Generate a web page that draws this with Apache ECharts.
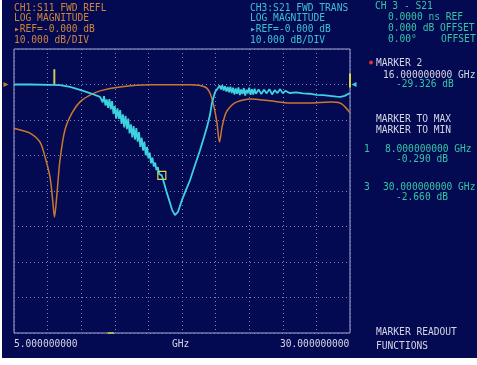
<!DOCTYPE html>
<html>
<head>
<meta charset="utf-8">
<script src="https://cdn.jsdelivr.net/npm/echarts@6/dist/echarts.min.js"></script>
<style>
  html, body { margin: 0; padding: 0; background: #ffffff; }
  #chart {
    width: 477px; height: 365px;
    background: linear-gradient(#040a52, #040a52) no-repeat 2px 0;
    background-size: 475px 358px;
  }
</style>
</head>
<body>
<div id="chart"></div>
<script>
// S11 (FWD REFL) trace, freq GHz / dB
const s11Freq = [5.0, 5.45, 6.19, 6.93, 7.31, 7.68, 7.9, 8.01, 8.2, 8.42, 8.79, 9.32, 9.91, 10.65, 11.4, 12.89,
  15.12, 18.1, 19.21, 19.58, 19.88, 20.1, 20.29, 20.48, 20.77, 21.22, 21.59, 22.56, 24.05, 25.54, 27.02, 28.51, 29.26, 29.63, 30.0];
const s11Db = [-12.3, -12.8, -13.7, -16.2, -20.4, -26.1, -33.4, -37.3, -30.6, -21.3, -12.8, -8.0, -4.9, -3.0, -1.8, -0.7,
  -0.1, -0.1, -0.7, -2.4, -6.3, -10.8, -16.2, -12.0, -8.0, -5.8, -4.9, -4.1, -4.6, -5.2, -5.2, -4.9, -5.2, -6.3, -8.0];

// S21 (FWD TRANS) trace, freq GHz / dB
const s21Freq = [5.0, 6.19, 7.68, 8.42, 9.17, 9.91, 10.65, 11.4,
  11.5, 11.6, 11.7, 11.8, 11.9, 12.0, 12.1, 12.2, 12.3, 12.4, 12.5, 12.6, 12.7, 12.8, 12.9, 13.0, 13.1, 13.2, 13.3, 13.4,
  13.5, 13.6, 13.7, 13.8, 13.9, 14.0, 14.1, 14.2, 14.3, 14.4, 14.5, 14.6, 14.7, 14.8, 14.9, 15.0, 15.1, 15.2, 15.3, 15.4,
  15.5, 15.6, 15.7, 15.8, 15.9, 16.0, 16.16, 16.38, 16.61, 16.76, 16.98, 17.2, 17.5, 17.8, 18.1, 18.47, 18.84, 19.14,
  19.36, 19.58, 19.73, 19.96, 20.18, 20.3, 20.4, 20.5, 20.6, 20.7, 20.8, 20.9, 21.0, 21.1, 21.2, 21.3, 21.4, 21.5, 21.6,
  21.7, 21.8, 21.9, 22.0, 22.1, 22.2, 22.3, 22.4, 22.5, 22.6, 22.7, 22.8, 22.9, 23.0, 23.2, 23.4, 23.6, 23.8, 24.0, 24.2,
  24.4, 24.6, 24.8, 25.0, 25.2, 25.5, 26.0, 26.5, 27.0, 27.5, 28.0, 28.5, 29.0, 29.3, 29.6, 30.0];
const s21Db = [0.0, 0.0, -0.1, -0.2, -0.7, -1.5, -2.4, -3.5,
  -3.0, -5.0, -3.3, -5.9, -4.2, -6.6, -4.1, -7.0, -4.7, -8.3, -6.1, -9.6, -6.7, -9.7, -7.2, -11.1, -8.4, -12.1, -8.8, -12.6,
  -9.6, -13.8, -11.2, -14.9, -11.7, -15.5, -12.3, -16.1, -13.4, -17.6, -15.0, -18.6, -16.1, -19.9, -17.6, -20.8, -19.2, -22.2, -20.6, -23.1,
  -22.0, -24.1, -23.3, -25.2, -24.8, -25.6, -27.7, -30.6, -33.4, -35.3, -36.8, -35.9, -32.5, -29.7, -26.9, -22.7, -18.5, -14.8,
  -12.0, -8.6, -5.2, -2.1, -1.0, -0.3, -1.4, -0.2, -1.7, -0.5, -2.0, -0.7, -2.2, -0.6, -2.4, -0.9, -2.8, -1.1, -2.6,
  -0.8, -3.0, -1.4, -2.7, -1.0, -3.1, -1.5, -2.5, -0.9, -2.9, -1.3, -2.8, -1.2, -2.6, -1.4, -2.7, -1.5, -2.5, -1.3, -2.8,
  -1.6, -2.4, -1.3, -2.5, -1.8, -2.4, -2.2, -2.5, -2.6, -2.9, -3.0, -3.2, -3.4, -3.5, -3.2, -2.4];

// markers: [freq, dB]
const marker1 = [8.0, 0.0];
const marker2 = [16.0, -25.6];
const marker3 = [30.0, -2.4];

const xTicks = ['5.000000000', 'GHz', '30.000000000'];

const s11Color = '#c8782e';
const s21Color = '#3cd2e0';
const FONT = '9.6px "DejaVu Sans Mono", monospace';

const chart = echarts.init(document.getElementById('chart'));

function zip(a, b) { return a.map((v, i) => [v, b[i]]); }

function txt(x, y, text, fill) {
  return { type: 'text', left: x, top: y, style: { text: text, fill: fill, font: FONT } };
}

const orangeT = '#d0843a';
const cyanT = '#3cc0d0';
const greenT = '#34c4a4';
const whiteT = '#d4d4e4';

const option = {
  animation: false,
  grid: {
    left: 14, right: 127, top: 49, bottom: 32,
    show: true, borderColor: '#a8a8d4', borderWidth: 1, backgroundColor: 'transparent'
  },
  xAxis: {
    type: 'value', min: 5, max: 30, interval: 2.5,
    axisLine: { show: false }, axisTick: { show: false }, axisLabel: { show: false },
    splitLine: { show: true, lineStyle: { color: '#8080c0', type: [1, 3], width: 1 } }
  },
  yAxis: {
    type: 'value', min: -70, max: 10, interval: 10,
    axisLine: { show: false }, axisTick: { show: false }, axisLabel: { show: false },
    splitLine: { show: true, lineStyle: { color: '#8080c0', type: [1, 3], width: 1 } }
  },
  series: [
    {
      name: 'S11', type: 'line', data: zip(s11Freq, s11Db), smooth: 0.3, showSymbol: false,
      lineStyle: { color: s11Color, width: 1.5 }, z: 2,
      markPoint: {
        silent: true,
        data: [
          { coord: [5, 0], symbol: 'triangle', symbolSize: [5, 5], symbolRotate: -90, symbolOffset: [-8, 0],
            itemStyle: { color: s11Color }, label: { show: false } }
        ]
      }
    },
    {
      name: 'S21', type: 'line', data: zip(s21Freq, s21Db), showSymbol: false,
      lineStyle: { color: s21Color, width: 1.8 }, z: 3,
      markPoint: {
        silent: true,
        data: [
          { coord: marker2, symbol: 'rect', symbolSize: 8,
            itemStyle: { color: 'transparent', borderColor: '#d8d84a', borderWidth: 1.2 }, label: { show: false } },
          { coord: [marker1[0], marker1[1] + 2.2], symbol: 'rect', symbolSize: [2, 15],
            itemStyle: { color: '#c8c858' }, label: { show: false } },
          { coord: [marker3[0], marker3[1] + 3.5], symbol: 'rect', symbolSize: [2, 14],
            itemStyle: { color: '#d8d84a' }, label: { show: false } },
          { coord: [30, 0], symbol: 'triangle', symbolSize: [5, 5], symbolRotate: 90, symbolOffset: [4, 0],
            itemStyle: { color: s21Color }, label: { show: false } },
          { coord: [12.2, -70], symbol: 'rect', symbolSize: [6, 2],
            itemStyle: { color: '#a8b850' }, label: { show: false } }
        ]
      }
    }
  ],
  graphic: [
    txt(14, 3, 'CH1:S11 FWD REFL', orangeT),
    txt(14, 13.5, 'LOG MAGNITUDE', orangeT),
    txt(14, 24.5, '▸REF=-0.000 dB', orangeT),
    txt(14, 35, '10.000 dB/DIV', orangeT),
    txt(250, 3, 'CH3:S21 FWD TRANS', cyanT),
    txt(250, 13.5, 'LOG MAGNITUDE', cyanT),
    txt(250, 24.5, '▸REF=-0.000 dB', cyanT),
    txt(250, 35, '10.000 dB/DIV', cyanT),
    txt(375, 1, 'CH 3 - S21', greenT),
    txt(388, 12, '0.0000 ns REF', greenT),
    txt(388, 23, '0.000 dB OFFSET', greenT),
    txt(388, 34, '0.00°', greenT),
    txt(441, 34, 'OFFSET', greenT),
    { type: 'circle', left: 369, top: 60.5, shape: { r: 2 }, style: { fill: '#e03030' } },
    txt(376, 58, 'MARKER 2', whiteT),
    txt(383, 70, '16.000000000 GHz', whiteT),
    txt(396, 79, '-29.326 dB', greenT),
    txt(376, 114, 'MARKER TO MAX', whiteT),
    txt(376, 125, 'MARKER TO MIN', whiteT),
    txt(364, 144, '1', greenT),
    txt(385, 144, '8.000000000 GHz', greenT),
    txt(396, 154, '-0.290 dB', greenT),
    txt(364, 182, '3', greenT),
    txt(383, 182, '30.000000000 GHz', greenT),
    txt(396, 192, '-2.660 dB', greenT),
    txt(14, 339, xTicks[0], whiteT),
    txt(172, 339, xTicks[1], whiteT),
    txt(280, 339, xTicks[2], whiteT),
    txt(376, 327, 'MARKER READOUT', whiteT),
    txt(376, 341, 'FUNCTIONS', whiteT)
  ]
};

chart.setOption(option);
</script>
</body>
</html>
